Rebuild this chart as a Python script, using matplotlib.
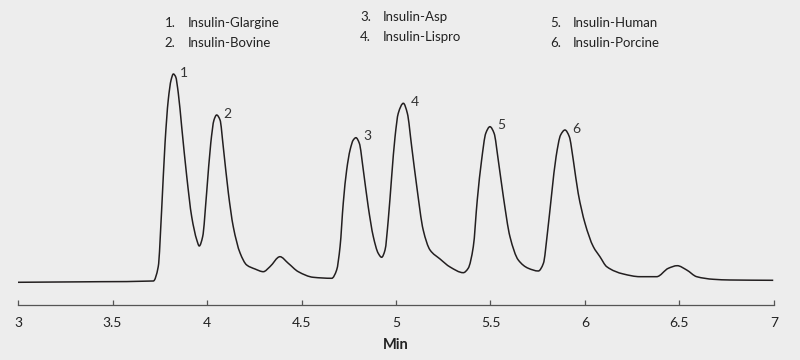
import matplotlib
matplotlib.use("Agg")
import matplotlib.pyplot as plt
from matplotlib.path import Path
from matplotlib.patches import PathPatch

# trace (time in min, detector signal in arbitrary units)
time_min = [3.000, 3.222, 3.434, 3.716, 3.742, 3.760, 3.778, 3.795, 3.810, 3.822,
            3.834, 3.848, 3.866, 3.893, 3.919, 3.946, 3.959, 3.977, 3.998, 4.020,
            4.037, 4.051, 4.069, 4.086, 4.113, 4.139, 4.175, 4.210, 4.254, 4.298,
            4.333, 4.386, 4.430, 4.483, 4.562, 4.660, 4.686, 4.704, 4.721, 4.739,
            4.757, 4.774, 4.788, 4.806, 4.827, 4.853, 4.880, 4.906, 4.924, 4.942,
            4.959, 4.977, 4.995, 5.012, 5.039, 5.060, 5.083, 5.110, 5.144, 5.180,
            5.233, 5.286, 5.356, 5.382, 5.409, 5.430, 5.453, 5.475, 5.497, 5.519,
            5.541, 5.568, 5.603, 5.647, 5.700, 5.753, 5.780, 5.801, 5.824, 5.847,
            5.871, 5.894, 5.917, 5.938, 5.964, 6.000, 6.044, 6.079, 6.115, 6.203,
            6.291, 6.379, 6.441, 6.488, 6.538, 6.591, 6.679, 6.767, 6.996]
signal = [-0.3, 0.0, 0.3, 1.0, 15.3, 72, 139, 182, 202, 208,
          205.3, 189, 155.3, 105.3, 65.3, 42, 36, 45.3, 89, 139,
          162, 167, 162, 135.3, 89, 55.3, 29, 17, 13, 10.3,
          15.3, 25.3, 18.7, 10.3, 4.7, 3.7, 12, 35.3, 79, 112,
          132, 142, 144.3, 138.7, 112, 75.3, 45.3, 28.7, 24.7, 32,
          62, 105.3, 145.3, 168.7, 178.7, 168.7, 135.3, 95.3, 52, 32,
          23, 15, 9.3, 13.7, 35.3, 82, 122, 148.7, 155.3, 148.7,
          122, 85.3, 45.3, 22, 13.7, 11, 18.7, 48.7, 88.7, 125.3,
          147, 152, 145.3, 122, 88.7, 58.7, 35.3, 25.3, 15.3, 8,
          5.3, 5.3, 13.7, 16.3, 12, 5.3, 2.7, 2, 1.7]

peak_labels = ["1", "2", "3", "4", "5", "6"]
peak_times = [3.822, 4.051, 4.788, 5.039, 5.497, 5.894]
peak_heights = [208, 167, 144.3, 178.7, 155.3, 152]

legend_cols = [
    ["Insulin-Glargine", "Insulin-Bovine"],
    ["Insulin-Asp", "Insulin-Lispro"],
    ["Insulin-Human", "Insulin-Porcine"],
]

xticks = [3, 3.5, 4, 4.5, 5, 5.5, 6, 6.5, 7]

bg = "#ededed"
ink = "#231f20"
plt.rcParams["font.family"] = ["Lato", "DejaVu Sans"]


def smooth_path(x, y):
    # monotone cubic (Fritsch-Carlson) drawn as bezier segments through the points
    n = len(x)
    h = [x[i + 1] - x[i] for i in range(n - 1)]
    d = [(y[i + 1] - y[i]) / h[i] for i in range(n - 1)]
    m = [d[0]] + [0.0] * (n - 2) + [d[-1]]
    for k in range(1, n - 1):
        if d[k - 1] * d[k] > 0:
            w1 = 2 * h[k] + h[k - 1]
            w2 = h[k] + 2 * h[k - 1]
            m[k] = (w1 + w2) / (w1 / d[k - 1] + w2 / d[k])
    verts = [(x[0], y[0])]
    codes = [Path.MOVETO]
    for i in range(n - 1):
        t = h[i] / 3
        verts += [(x[i] + t, y[i] + m[i] * t), (x[i + 1] - t, y[i + 1] - m[i + 1] * t),
                  (x[i + 1], y[i + 1])]
        codes += [Path.CURVE4] * 3
    return Path(verts, codes)


fig = plt.figure(figsize=(8, 3.6), dpi=100, facecolor=bg)
ax = fig.add_axes([0.0225, 0.1528, 0.945, 0.6806], facecolor=bg)

ax.add_patch(PathPatch(smooth_path(time_min, signal), fill=False, edgecolor=ink,
                       lw=1.1, joinstyle="round"))

for lab, t, h in zip(peak_labels, peak_times, peak_heights):
    ax.annotate(lab, (t, h), xytext=(5, 1), textcoords="offset points",
                ha="left", va="center", fontsize=10, color="#333333")

ax.set_xlim(3, 7)
ax.set_ylim(-23, 222)
ax.set_xticks(xticks)
ax.set_xticklabels([f"{v:g}" for v in xticks])
ax.tick_params(axis="x", direction="in", length=3.5, width=0.9, colors="#555555",
               labelcolor="#222222", labelsize=10, pad=9)
ax.set_yticks([])
for s in ["top", "left", "right"]:
    ax.spines[s].set_visible(False)
ax.spines["bottom"].set_color("#555555")
ax.spines["bottom"].set_linewidth(0.9)
ax.set_xlabel("Min", fontsize=10.5, fontweight="bold", color="#222222", labelpad=6)

# legend block at the top
col_x = [0.206, 0.45, 0.6875]
col_y = [(0.936, 0.881), (0.953, 0.897), (0.936, 0.881)]
n = 1
for cx, cy, names in zip(col_x, col_y, legend_cols):
    for y, name in zip(cy, names):
        fig.text(cx, y, f"{n}.", fontsize=9.5, color="#222222", va="center")
        fig.text(cx + 0.029, y, name, fontsize=9.5, color="#222222", va="center")
        n += 1

fig.savefig("out.png", dpi=100, facecolor=bg)
